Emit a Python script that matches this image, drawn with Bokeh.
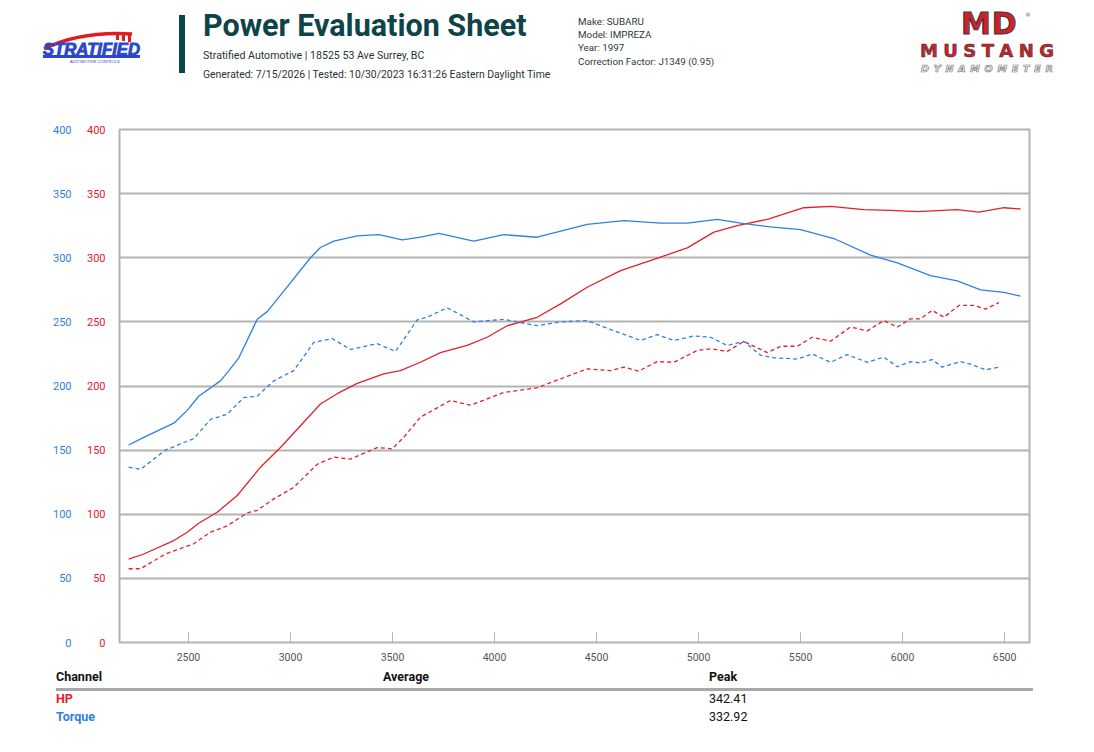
from bokeh.plotting import figure
from bokeh.layouts import column
from bokeh.models import Range1d, LinearAxis, FixedTicker, Div
from bokeh.embed import file_html
from bokeh.resources import INLINE

# === Data === #
hp_rpm = [2207, 2281, 2428, 2494, 2550, 2641, 2739, 2853, 2951, 3049, 3147, 3229, 3327, 3457, 3539,
          3637, 3735, 3866, 3964, 4062, 4209, 4324, 4454, 4618, 4814, 4945, 5075, 5190, 5337, 5516,
          5647, 5810, 5941, 6072, 6268, 6374, 6497, 6578]
hp = [65, 69, 79.5, 86, 93, 101.6, 114.6, 136.7, 152, 169, 186, 194, 202, 209.5, 212,
      218.5, 226, 231.6, 238, 247, 253.6, 264, 277, 290, 300.5, 307.7, 320, 325, 330, 339,
      340, 337.5, 337, 336, 337.5, 335.6, 339, 338]

tq_rpm = [2207, 2281, 2428, 2494, 2550, 2657, 2698, 2747, 2837, 2886, 2967, 3098, 3147, 3212, 3327,
          3433, 3548, 3637, 3727, 3898, 4046, 4209, 4454, 4634, 4814, 4945, 5092, 5206, 5353, 5500,
          5663, 5843, 5974, 6137, 6268, 6382, 6497, 6578]
tq = [154, 160, 171, 181, 192, 204, 212, 222, 252, 258, 274, 300, 308, 313, 317,
      318, 314, 316, 319, 313, 318, 316, 326, 329, 327, 327, 330, 327, 324, 322,
      315, 302, 296, 286, 282, 275, 273, 270]

hp2_rpm = [2207, 2265, 2387, 2526, 2608, 2690, 2788, 2837, 2918, 3016, 3131, 3212, 3294, 3425, 3498,
           3555, 3637, 3784, 3882, 4046, 4209, 4324, 4454, 4569, 4634, 4706, 4797, 4879, 4994, 5059,
           5141, 5222, 5337, 5402, 5484, 5557, 5647, 5745, 5827, 5908, 5974, 6039, 6088, 6145, 6203,
           6276, 6350, 6407, 6472]
hp2 = [57.5, 57.5, 69, 77, 86, 91, 101, 103, 112, 121, 139, 144.5, 143, 152, 151,
       160, 175.7, 188.7, 185, 195, 198.6, 205.6, 213.4, 212, 214.7, 211.6, 219, 218.5, 227.7, 229,
       227, 234.7, 226, 231, 231, 238, 235, 246, 243, 251, 246, 252.4, 252.4, 259, 253.6,
       262.8, 262.8, 260, 265]

tq2_rpm = [2207, 2265, 2387, 2526, 2608, 2690, 2771, 2837, 2918, 3016, 3114, 3204, 3294, 3425, 3515,
           3621, 3670, 3768, 3898, 4046, 4209, 4324, 4454, 4569, 4716, 4797, 4879, 4977, 5059, 5141,
           5222, 5304, 5369, 5484, 5557, 5647, 5728, 5827, 5908, 5974, 6039, 6088, 6145, 6194, 6284,
           6333, 6407, 6472]
tq2 = [136.7, 135, 150, 159, 174, 178, 191, 192, 204, 212, 234, 237, 228.5, 233, 227,
       251.6, 253.6, 261, 250, 252, 247, 250, 251, 244, 235.5, 240, 235.5, 239, 238, 231.6,
       234.7, 224, 222, 221, 225, 218.5, 224.5, 218.5, 222.5, 215, 219, 218, 220.6, 214.7, 219,
       217, 212.6, 214.7]

y_ticks = [0, 50, 100, 150, 200, 250, 300, 350, 400]
x_ticks = [2500, 3000, 3500, 4000, 4500, 5000, 5500, 6000, 6500]

title = "Power Evaluation Sheet"
shop = "Stratified Automotive | 18525 53 Ave Surrey, BC"
stamp = "Generated: 7/15/2026 | Tested: 10/30/2023 16:31:26 Eastern Daylight Time"
vehicle = ["Make: SUBARU", "Model: IMPREZA", "Year: 1997", "Correction Factor: J1349 (0.95)"]
columns = ["Channel", "Average", "Peak"]
channels = ["HP", "Torque"]
peaks = ["342.41", "332.92"]

RED = "#e3202c"
BLUE = "#2f80e0"
TEAL = "#0c4448"
GRID = "#b3b3b3"

W = 1094


def at(x, y, html, style=""):
    return f'<div style="position:absolute;left:{x}px;top:{y}px;white-space:nowrap;line-height:1;{style}">{html}</div>'


def spread(word, width, style):
    letters = "".join(f"<span>{c}</span>" for c in word)
    return f'<div style="display:flex;justify-content:space-between;width:{width}px;{style}">{letters}</div>'


# === Header === #
strat_logo = (
    '<svg width="104" height="36" style="position:absolute;left:40px;top:29px">'
    '<path d="M4 20 Q 40 2 92 5" stroke="#e01b24" stroke-width="3.5" fill="none"/>'
    '<rect x="76" y="5" width="3" height="6" fill="#e01b24"/>'
    '<rect x="82" y="5" width="3" height="7" fill="#e01b24"/>'
    '<rect x="88" y="5" width="3" height="8" fill="#e01b24"/>'
    '<rect x="3" y="26" width="97" height="3" fill="#2a47c9"/>'
    '<text x="3" y="26" font-family="DejaVu Sans" font-weight="bold" font-style="italic" font-size="16" '
    'fill="#2a47c9" stroke="#2a47c9" stroke-width="0.8" textLength="97" lengthAdjust="spacingAndGlyphs">STRATIFIED</text>'
    '<text x="30" y="33.5" font-family="DejaVu Sans" font-size="4" fill="#2a47c9">AUTOMOTIVE CONTROLS</text>'
    '</svg>'
)

md_logo = (
    at(961, 8.6, "MD", "font-family:'DejaVu Sans';font-weight:bold;font-size:30px;color:#d0212b;"
                       "-webkit-text-stroke:1px #3a3a3a;letter-spacing:1px")
    + at(1025, 12, "&reg;", "font-family:'DejaVu Sans';font-size:6px;color:#666")
    + at(920, 42.3, spread("MUSTANG", 134, "font-family:'DejaVu Sans';font-weight:bold;font-size:18px;"
                                           "color:#c8242c;-webkit-text-stroke:0.6px #3a3a3a"))
    + at(921, 63.5, spread("DYNAMOMETER", 132, "font-family:'DejaVu Sans';font-weight:bold;font-style:italic;"
                                               "font-size:9.5px;color:white;-webkit-text-stroke:0.7px #777"))
)

head_html = (
    '<div style="position:relative;width:1094px;height:104px;">'
    + strat_logo
    + f'<div style="position:absolute;left:179px;top:15px;width:6px;height:58px;background:{TEAL}"></div>'
    + at(203, 11, title, f"font-family:Roboto;font-weight:bold;font-size:30.5px;color:{TEAL}")
    + at(203, 50.5, shop, "font-family:Roboto;font-size:10.6px;color:#1f3434")
    + at(203, 69.5, stamp, "font-family:Roboto;font-size:10.4px;color:#1f3434")
    + "".join(at(578, c - 5, t, "font-family:Roboto;font-size:9.8px;color:#2e3b3b")
              for t, c in zip(vehicle, [22, 35, 48, 62]))
    + md_logo
    + "</div>"
)
head = Div(text=head_html, width=W, height=104, margin=0)

# === Main chart === #
p = figure(width=W, height=564, x_range=Range1d(2162, 6622), y_range=Range1d(0, 400),
           output_backend="svg", toolbar_location=None,
           min_border_left=119, min_border_right=65, min_border_top=25, min_border_bottom=26)
p.extra_y_ranges = {"tq": Range1d(0, 400)}

p.outline_line_color = GRID
p.outline_line_width = 2
p.xgrid.visible = False
p.ygrid.ticker = FixedTicker(ticks=y_ticks)
p.ygrid.grid_line_color = GRID
p.ygrid.grid_line_width = 2

p.xaxis.ticker = FixedTicker(ticks=x_ticks)
p.xaxis.axis_line_color = None
p.xaxis.major_tick_in = 10
p.xaxis.major_tick_out = 0
p.xaxis.major_tick_line_color = GRID
p.xaxis.minor_tick_line_color = None
p.xaxis.major_label_standoff = 10
p.xaxis.major_label_text_font = "Roboto"
p.xaxis.major_label_text_font_size = "10.5px"
p.xaxis.major_label_text_color = "#555555"

ax_tq = LinearAxis(y_range_name="tq")
p.add_layout(ax_tq, "left")
for ax, col, gap in ((p.yaxis[0], RED, 14), (ax_tq, BLUE, 12)):
    ax.ticker = FixedTicker(ticks=y_ticks)
    ax.axis_line_color = None
    ax.major_tick_line_color = None
    ax.minor_tick_line_color = None
    ax.major_tick_in = 0
    ax.major_tick_out = 0
    ax.major_label_standoff = gap
    ax.major_label_text_font = "Roboto"
    ax.major_label_text_font_size = "11px"
    ax.major_label_text_color = col

p.line(hp_rpm, hp, line_color=RED, line_width=1.3)
p.line(tq_rpm, tq, line_color=BLUE, line_width=1.3, y_range_name="tq")
p.line(hp2_rpm, hp2, line_color=RED, line_width=1.3, line_dash="4 3")
p.line(tq2_rpm, tq2, line_color=BLUE, line_width=1.3, line_dash="4 3", y_range_name="tq")

# === Summary table === #
cell = "font-family:Roboto;font-size:12.5px;"
tab_html = (
    '<div style="position:relative;width:1094px;height:80px;">'
    + "".join(at(x, 2.5, t, cell + "font-weight:bold;color:#111")
              for t, x in zip(columns, [56, 383, 709]))
    + '<div style="position:absolute;left:56px;top:19.5px;width:977px;height:3px;background:#a8a8a8"></div>'
    + "".join(at(56, y, t, cell + f"font-weight:bold;color:{c}")
              for t, y, c in zip(channels, [24.5, 42.5], [RED, BLUE]))
    + "".join(at(709, y, t, cell + "color:#111") for t, y in zip(peaks, [24.5, 42.5]))
    + "</div>"
)
tab = Div(text=tab_html, width=W, height=80, margin=0)

page = column(head, p, tab, spacing=0)
open("out.html", "w").write(file_html(page, INLINE))
